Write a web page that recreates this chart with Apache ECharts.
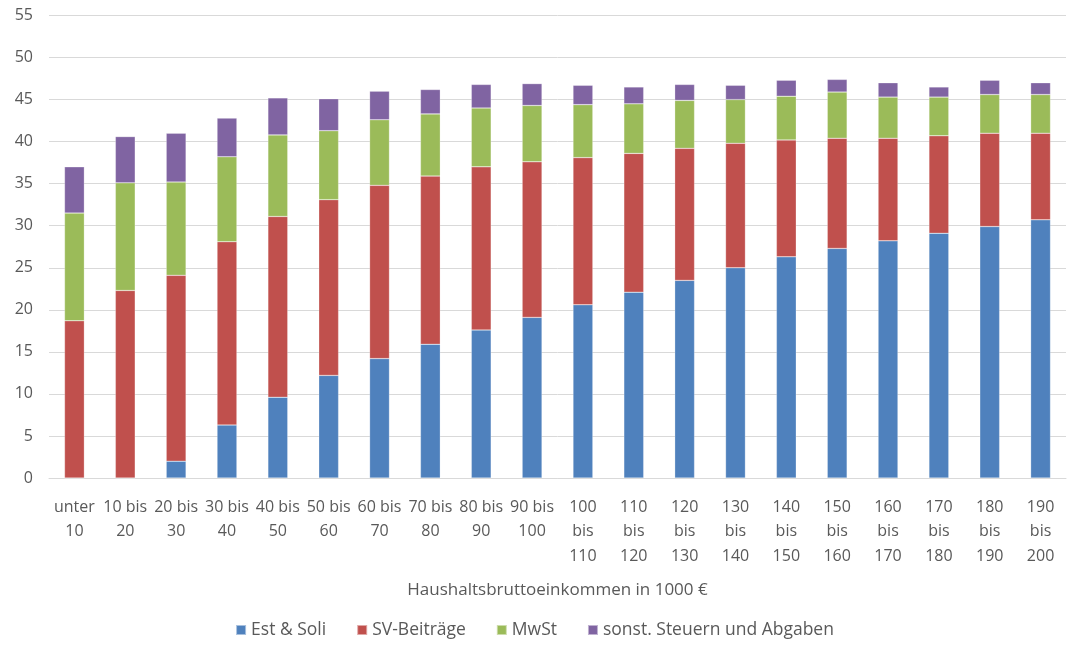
<!DOCTYPE html>
<html>
<head>
<meta charset="utf-8">
<script src="https://cdn.jsdelivr.net/npm/echarts@6/dist/echarts.min.js"></script>
<style>
html, body { margin: 0; padding: 0; background: #fff; }
#main { width: 1069px; height: 646px; }
</style>
</head>
<body>
<div id="main"></div>
<script>
var categories = ['unter\n10', '10 bis\n20', '20 bis\n30', '30 bis\n40', '40 bis\n50', '50 bis\n60', '60 bis\n70', '70 bis\n80', '80 bis\n90', '90 bis\n100',
    '100\nbis\n110', '110\nbis\n120', '120\nbis\n130', '130\nbis\n140', '140\nbis\n150', '150\nbis\n160', '160\nbis\n170', '170\nbis\n180', '180\nbis\n190', '190\nbis\n200'];
var estSoli = [0, 0, 2.0, 6.3, 9.6, 12.2, 14.2, 15.9, 17.6, 19.1, 20.6, 22.1, 23.5, 25.0, 26.3, 27.3, 28.2, 29.1, 29.9, 30.7];
var svBeitraege = [18.7, 22.3, 22.1, 21.8, 21.5, 20.9, 20.6, 20.0, 19.4, 18.5, 17.5, 16.5, 15.7, 14.8, 13.9, 13.1, 12.2, 11.6, 11.1, 10.3];
var mwst = [12.8, 12.8, 11.1, 10.1, 9.7, 8.2, 7.8, 7.4, 7.0, 6.7, 6.3, 5.9, 5.7, 5.2, 5.2, 5.5, 4.9, 4.6, 4.6, 4.6];
var sonstige = [5.5, 5.5, 5.8, 4.6, 4.4, 3.8, 3.4, 2.9, 2.8, 2.6, 2.3, 2.0, 1.9, 1.7, 1.9, 1.5, 1.7, 1.2, 1.7, 1.4];

var textColor = '#595959';
var fontFam = '"Open Sans", Lato, sans-serif';

function bar(name, data, color) {
    return {
        name: name,
        type: 'bar',
        stack: 'total',
        barWidth: '39%',
        data: data,
        itemStyle: { color: color, borderColor: 'rgba(255,255,255,0.5)', borderWidth: 0.5 }
    };
}

var myChart = echarts.init(document.getElementById('main'));
var option = {
    animation: false,
    textStyle: { fontFamily: fontFam, color: textColor },
    grid: { left: 49, right: 3, top: 15.5, bottom: 168 },
    legend: {
        bottom: 2,
        left: 'center',
        icon: 'rect',
        itemWidth: 10,
        itemHeight: 10,
        itemGap: 30,
        textStyle: { fontSize: 17.5, color: textColor, fontFamily: fontFam },
        data: ['Est & Soli', 'SV-Beiträge', 'MwSt', 'sonst. Steuern und Abgaben']
    },
    xAxis: {
        type: 'category',
        data: categories,
        name: 'Haushaltsbruttoeinkommen in 1000 €',
        nameLocation: 'middle',
        nameGap: 104,
        nameTextStyle: { fontSize: 17, color: textColor, fontFamily: fontFam },
        axisLine: { show: true, lineStyle: { color: '#d9d9d9' } },
        axisTick: { show: false },
        axisLabel: { interval: 0, fontSize: 16, lineHeight: 24.5, color: textColor, margin: 17 }
    },
    yAxis: {
        type: 'value',
        min: 0,
        max: 55,
        interval: 5,
        axisLine: { show: false },
        axisTick: { show: false },
        splitLine: { lineStyle: { color: '#d9d9d9' } },
        axisLabel: { fontSize: 16, color: textColor, margin: 16 }
    },
    series: [
        bar('Est & Soli', estSoli, '#4F81BD'),
        bar('SV-Beiträge', svBeitraege, '#C0504D'),
        bar('MwSt', mwst, '#9BBB59'),
        bar('sonst. Steuern und Abgaben', sonstige, '#8064A2')
    ]
};
myChart.setOption(option);
</script>
</body>
</html>
